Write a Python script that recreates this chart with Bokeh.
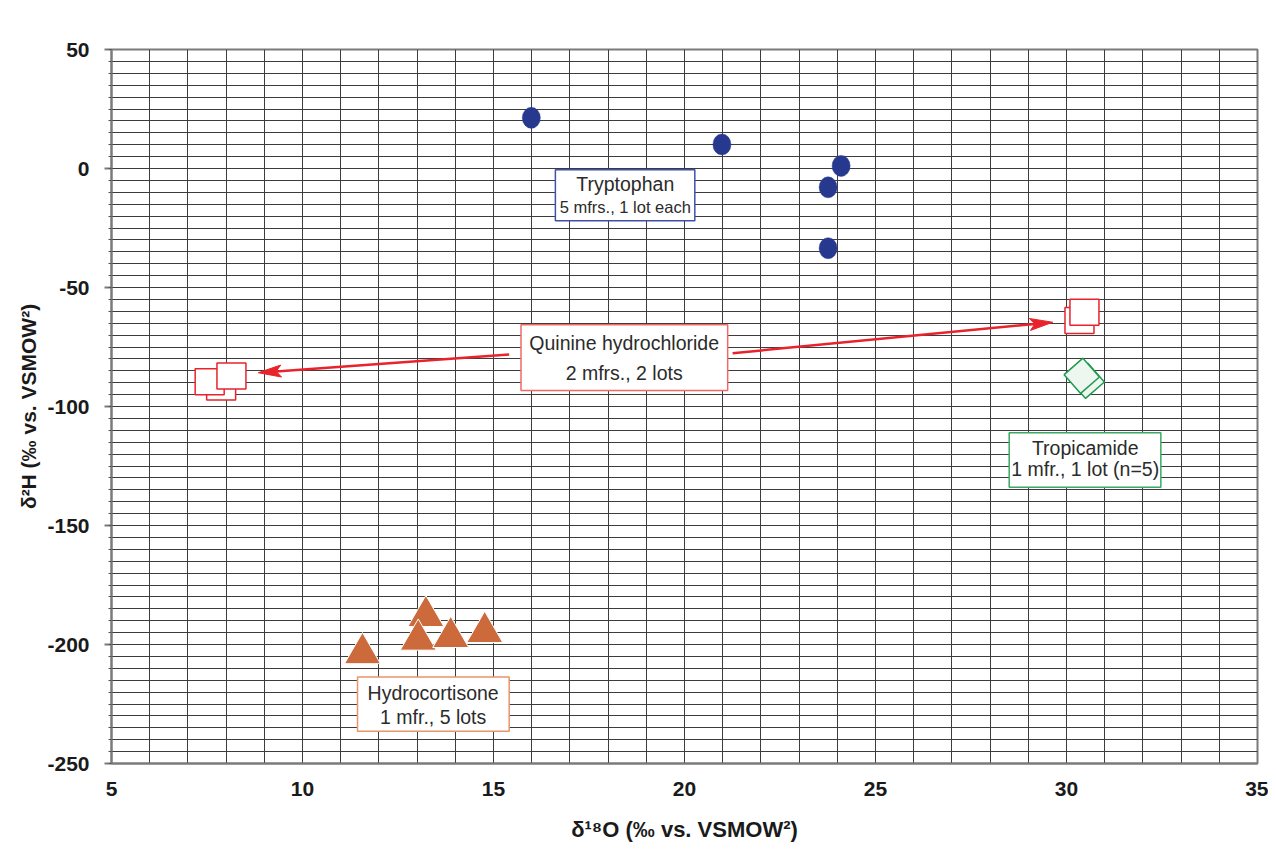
import math
from bokeh.plotting import figure
from bokeh.models import FixedTicker, Range1d
from bokeh.core.properties import value
from bokeh.embed import file_html
from bokeh.resources import INLINE

# ---------------- data ----------------
tryptophan_x = [15.99, 20.98, 24.10, 23.76, 23.76]
tryptophan_y = [21.3, 10.1, 1.1, -7.9, -33.5]

quinine_x = [7.87, 7.57, 8.14, 30.34, 30.47]
quinine_y = [-91.8, -89.6, -87.2, -63.9, -60.4]

tropicamide_x = [30.53, 30.40]
tropicamide_y = [-89.2, -87.1]

hydrocortisone_x = [11.57, 13.23, 13.03, 13.88, 14.77]
hydrocortisone_y = [-203.7, -188.1, -198.0, -196.9, -194.8]

x_ticks = [5, 10, 15, 20, 25, 30, 35]
x_tick_labels = ["5", "10", "15", "20", "25", "30", "35"]
y_ticks = [-250, -200, -150, -100, -50, 0, 50]
y_tick_labels = ["-250", "-200", "-150", "-100", "-50", "0", "50"]

x_title = "δ¹⁸O (‰ vs. VSMOW²)"
y_title = "δ²H (‰ vs. VSMOW²)"

label_titles = ["Tryptophan", "Quinine hydrochloride", "Tropicamide", "Hydrocortisone"]
label_subs = ["5 mfrs., 1 lot each", "2 mfrs., 2 lots", "1 mfr., 1 lot (n=5)", "1 mfr., 5 lots"]

# ---------------- layout / style ----------------
X0, X1, Y0, Y1 = 5, 35, -250, 50
FW, FH = 1146, 714
SX = FW / (X1 - X0)
SY = FH / (Y1 - Y0)

BLUE = "#27398f"
RED = "#e8232c"
GREEN = "#1f9a4e"
ORANGE = "#cd6a3b"
TXT = "#2b2b2b"
GRID = "#3c3c3c"
FRAME = "#7a7a7a"

# annotation boxes: (left, right, top, bottom), text x, baseline 1, baseline 2, border colour, font sizes
box_geom = [
    ((16.62, 20.27, -0.5, -22.0), 18.45, -6.6, -16.3, "#3f51a8", "19.5px", "16.5px"),
    ((15.72, 21.13, -65.7, -93.3), 18.42, -73.2, -85.8, "#f06a6a", "19.5px", "19.5px"),
    ((28.50, 32.47, -111.0, -133.9), 30.49, -117.3, -126.4, "#3aaa64", "19.5px", "19.5px"),
    ((11.44, 15.41, -213.7, -236.4), 13.42, -220.5, -230.3, "#e8956a", "19.5px", "19.5px"),
]

# arrows from the quinine label to its two clusters: (x_start, y_start, x_end, y_end)
arrow_geom = [
    (15.41, -78.2, 8.84, -85.8),
    (21.26, -77.6, 29.64, -64.6),
]

p = figure(
    frame_width=FW, frame_height=FH,
    x_range=Range1d(X0, X1), y_range=Range1d(Y0, Y1),
    output_backend="svg", toolbar_location=None,
    min_border_left=111, min_border_right=11, min_border_top=49, min_border_bottom=82,
    background_fill_color="white", border_fill_color="white",
)

p.outline_line_color = FRAME
p.outline_line_width = 2

# ticks / grid
p.xaxis.ticker = FixedTicker(ticks=x_ticks, minor_ticks=list(range(X0, X1 + 1)))
p.yaxis.ticker = FixedTicker(ticks=y_ticks, minor_ticks=list(range(Y0, Y1 + 1, 5)))
p.xaxis.major_label_overrides = {t: s for t, s in zip(x_ticks, x_tick_labels)}
p.yaxis.major_label_overrides = {t: s for t, s in zip(y_ticks, y_tick_labels)}
for g in (p.xgrid, p.ygrid):
    g.grid_line_color = GRID
    g.grid_line_width = 1
    g.minor_grid_line_color = GRID
    g.minor_grid_line_width = 1

for ax in (p.xaxis, p.yaxis):
    ax.axis_line_color = FRAME
    ax.axis_line_width = 2
    ax.major_label_text_font = "Liberation Sans"
    ax.major_label_text_font_style = "bold"
    ax.major_label_text_font_size = "21px"
    ax.major_label_text_color = "#1a1a1a"
    ax.axis_label_text_font = "Liberation Sans"
    ax.axis_label_text_font_style = "bold"
    ax.axis_label_text_color = "#1a1a1a"
    ax.major_tick_in = 0
    ax.minor_tick_in = 0

p.xaxis.major_tick_out = 0
p.xaxis.minor_tick_out = 0
p.xaxis.major_label_standoff = 18
p.xaxis.axis_label = x_title
p.xaxis.axis_label_text_font_size = "22px"
p.xaxis.axis_label_standoff = 18

p.yaxis.major_tick_out = 7
p.yaxis.minor_tick_out = 3
p.yaxis.major_tick_line_color = FRAME
p.yaxis.major_tick_line_width = 2
p.yaxis.minor_tick_line_color = "#555555"
p.yaxis.major_label_standoff = 15
p.yaxis.axis_label = y_title
p.yaxis.axis_label_text_font_size = "21px"
p.yaxis.axis_label_standoff = 4

# ---------------- arrows ----------------
def arrow_parts(xs, ys, xe, ye, L=23.0, W=12.0, notch=5.0):
    dx = (xe - xs) * SX
    dy = (ye - ys) * SY
    d = math.hypot(dx, dy)
    ux, uy = dx / d, dy / d
    nx, ny = -uy, ux
    pts = [(0, 0),
           (-L * ux + W / 2 * nx, -L * uy + W / 2 * ny),
           (-(L - notch) * ux, -(L - notch) * uy),
           (-L * ux - W / 2 * nx, -L * uy - W / 2 * ny)]
    hx = [xe + a / SX for a, b in pts]
    hy = [ye + b / SY for a, b in pts]
    lx = [xs, xe - (L - notch) * ux / SX]
    ly = [ys, ye - (L - notch) * uy / SY]
    return lx, ly, hx, hy

for xs, ys, xe, ye in arrow_geom:
    lx, ly, hx, hy = arrow_parts(xs, ys, xe, ye)
    p.line(lx, ly, line_color=RED, line_width=2.5)
    p.patch(hx, hy, fill_color=RED, line_color=RED, line_width=1)

# ---------------- label boxes ----------------
for (box, tx, b1, b2, col, fs1, fs2), t1, t2 in zip(box_geom, label_titles, label_subs):
    l, r, t, b = box
    p.quad(left=[l], right=[r], top=[t], bottom=[b], fill_color="white",
           line_color=col, line_width=1.5)
    p.text(x=[tx], y=[b1], text=[t1], text_font=value("Liberation Sans"),
           text_font_size=value(fs1), text_color=TXT, text_align="center",
           text_baseline="alphabetic")
    p.text(x=[tx], y=[b2], text=[t2], text_font=value("Liberation Sans"),
           text_font_size=value(fs2), text_color=TXT, text_align="center",
           text_baseline="alphabetic")

# ---------------- markers ----------------
p.ellipse(x=tryptophan_x, y=tryptophan_y, width=18, height=21,
          width_units="screen", height_units="screen",
          fill_color=BLUE, line_color=BLUE, line_width=0.5)

p.rect(x=quinine_x, y=quinine_y, width=29, height=26,
       width_units="screen", height_units="screen",
       fill_color="white", line_color=RED, line_width=1.5)

p.scatter(x=tropicamide_x, y=tropicamide_y, marker="square", size=25, angle=0.72,
          fill_color="#eef6f0", line_color=GREEN, line_width=1.5)

p.scatter(x=hydrocortisone_x, y=hydrocortisone_y, marker="triangle", size=36,
          fill_color=ORANGE, line_color="white", line_width=1)

open("out.html", "w").write(file_html(p, INLINE))
